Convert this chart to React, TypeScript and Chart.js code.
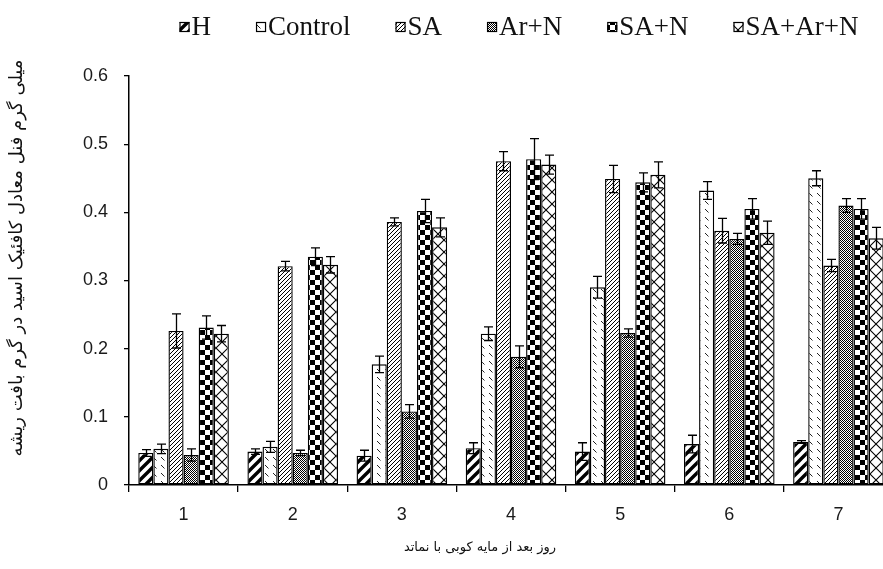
import React, { useEffect, useRef } from "react";
import { Chart, registerables } from "chart.js";

Chart.register(...registerables);

const categories = ["1", "2", "3", "4", "5", "6", "7"];
const seriesLabels = ["H", "Control", "SA", "Ar+N", "SA+N", "SA+Ar+N"];

const hValues = [0.047, 0.049, 0.043, 0.054, 0.049, 0.06, 0.063];
const hErrors = [0.005, 0.004, 0.008, 0.008, 0.013, 0.013, 0.002];
const controlValues = [0.053, 0.056, 0.177, 0.222, 0.29, 0.432, 0.45];
const controlErrors = [0.007, 0.008, 0.012, 0.01, 0.016, 0.013, 0.011];
const saValues = [0.226, 0.321, 0.386, 0.475, 0.449, 0.373, 0.322];
const saErrors = [0.025, 0.007, 0.006, 0.014, 0.02, 0.018, 0.009];
const arnValues = [0.044, 0.047, 0.108, 0.188, 0.223, 0.361, 0.41];
const arnErrors = [0.009, 0.004, 0.01, 0.016, 0.006, 0.008, 0.01];
const sanValues = [0.231, 0.335, 0.402, 0.478, 0.444, 0.405, 0.405];
const sanErrors = [0.017, 0.013, 0.017, 0.03, 0.014, 0.015, 0.015];
const saarnValues = [0.222, 0.323, 0.378, 0.47, 0.455, 0.37, 0.362];
const saarnErrors = [0.012, 0.012, 0.014, 0.014, 0.019, 0.017, 0.016];

const yTicks = [0, 0.1, 0.2, 0.3, 0.4, 0.5, 0.6];
const yTitle = "میلی گرم فنل معادل کافئیک اسید در گرم بافت ریشه";
const xTitle = "روز بعد از مایه کوبی با نماتد";

const allValues = [hValues, controlValues, saValues, arnValues, sanValues, saarnValues];
const allErrors = [hErrors, controlErrors, saErrors, arnErrors, sanErrors, saarnErrors];
const patternKinds = ["wideStripe", "dash", "thinStripe", "dots", "checker", "cross"];

function makePattern(kind: string): CanvasPattern {
  const c = document.createElement("canvas");
  let w = 10,
    h = 10;
  if (kind === "thinStripe") { w = 4; h = 4; }
  if (kind === "dots") { w = 2; h = 2; }
  if (kind === "dash") { w = 8; h = 8; }
  if (kind === "cross") { w = 12; h = 12; }
  c.width = w;
  c.height = h;
  const g = c.getContext("2d") as CanvasRenderingContext2D;
  g.fillStyle = "#fff";
  g.fillRect(0, 0, w, h);
  g.strokeStyle = "#000";
  g.fillStyle = "#000";
  const diag = (lw: number) => {
    g.lineWidth = lw;
    g.beginPath();
    g.moveTo(0, h);
    g.lineTo(w, 0);
    g.moveTo(-w / 2, h / 2);
    g.lineTo(w / 2, -h / 2);
    g.moveTo(w / 2, h * 1.5);
    g.lineTo(w * 1.5, h / 2);
    g.stroke();
  };
  if (kind === "wideStripe") diag(3.4);
  else if (kind === "thinStripe") diag(1);
  else if (kind === "dots") {
    g.fillRect(0, 0, 1, 1);
    g.fillRect(1, 1, 1, 1);
  } else if (kind === "dash") {
    g.strokeStyle = "#222";
    g.lineWidth = 1;
    g.beginPath();
    g.moveTo(1, 1);
    g.lineTo(4.5, 4.5);
    g.stroke();
  } else if (kind === "checker") {
    g.fillRect(0, 0, 5, 5);
    g.fillRect(5, 5, 5, 5);
  } else if (kind === "cross") {
    g.lineWidth = 1.1;
    g.beginPath();
    g.moveTo(0, 0);
    g.lineTo(w, h);
    g.moveTo(w, 0);
    g.lineTo(0, h);
    g.stroke();
  }
  return g.createPattern(c, "repeat") as CanvasPattern;
}

export default function App() {
  const ref = useRef<HTMLCanvasElement | null>(null);

  useEffect(() => {
    if (!ref.current) return;
    const patterns = patternKinds.map(makePattern);

    const errorBars = {
      id: "errorBars",
      afterDatasetsDraw(chart: any) {
        const ctx = chart.ctx;
        const ys = chart.scales.y;
        ctx.save();
        ctx.strokeStyle = "#000";
        ctx.lineWidth = 1.3;
        chart.data.datasets.forEach((ds: any, i: number) => {
          const meta = chart.getDatasetMeta(i);
          meta.data.forEach((bar: any, j: number) => {
            const v = ds.data[j];
            const e = allErrors[i][j];
            const x = Math.round(bar.x) + 0.5;
            const yt = ys.getPixelForValue(v + e);
            const yb = ys.getPixelForValue(v - e);
            ctx.beginPath();
            ctx.moveTo(x, yt);
            ctx.lineTo(x, yb);
            ctx.moveTo(x - 4.5, yt);
            ctx.lineTo(x + 4.5, yt);
            ctx.moveTo(x - 4.5, yb);
            ctx.lineTo(x + 4.5, yb);
            ctx.stroke();
          });
        });
        ctx.restore();
      },
    };

    const decorations = {
      id: "decorations",
      afterDraw(chart: any) {
        const ctx = chart.ctx;
        ctx.save();
        // legend
        ctx.font = '27px "Liberation Serif", "Times New Roman", serif';
        ctx.textBaseline = "middle";
        const box = 10;
        const boxGap = 2;
        const itemGap = 45;
        const widths = seriesLabels.map((s) => box + boxGap + ctx.measureText(s).width);
        const total = widths.reduce((a, b) => a + b, 0) + itemGap * (widths.length - 1);
        let x = 519 - total / 2;
        const ly = 27;
        seriesLabels.forEach((s, i) => {
          ctx.fillStyle = patterns[i];
          ctx.fillRect(x, ly - box / 2, box, box);
          ctx.strokeStyle = "#000";
          ctx.lineWidth = 1.2;
          ctx.strokeRect(x + 0.5, ly - box / 2 + 0.5, box - 1, box - 1);
          ctx.fillStyle = "#111";
          ctx.textAlign = "left";
          ctx.fillText(s, x + box + boxGap, ly + 1);
          x += widths[i] + itemGap;
        });
        // x title
        ctx.fillStyle = "#111";
        ctx.font = '13px "DejaVu Sans", sans-serif';
        ctx.textAlign = "center";
        ctx.fillText(xTitle, 480, 548);
        // y title
        ctx.translate(17, 258);
        ctx.rotate(-Math.PI / 2);
        ctx.font = '18px "DejaVu Sans", sans-serif';
        ctx.fillText(yTitle, 0, 0);
        ctx.restore();
      },
    };

    const chart = new Chart(ref.current, {
      type: "bar",
      data: {
        labels: categories,
        datasets: seriesLabels.map((label, i) => ({
          label,
          data: allValues[i],
          backgroundColor: patterns[i],
          borderColor: "#000",
          borderWidth: 1.4,
          borderSkipped: false,
          barPercentage: 1,
          categoryPercentage: 0.83,
        })),
      },
      options: {
        responsive: false,
        animation: false,
        devicePixelRatio: 1,
        layout: { padding: { top: 76, left: 0, right: 0, bottom: 0 } },
        plugins: {
          legend: { display: false },
          tooltip: { enabled: false },
          title: { display: false },
        },
        scales: {
          x: {
            afterFit: (s: any) => {
              s.height = 84;
            },
            grid: {
              offset: true,
              drawOnChartArea: false,
              tickLength: 7,
              color: "#000",
              lineWidth: 1.3,
            },
            border: { color: "#000", width: 1.5 },
            ticks: {
              color: "#1a1a1a",
              font: { family: '"Liberation Sans", Arial, sans-serif', size: 18 },
              padding: 12,
            },
          },
          y: {
            min: 0,
            max: 0.6,
            afterFit: (s: any) => {
              s.width = 129;
            },
            afterBuildTicks: (s: any) => {
              s.ticks = yTicks.map((v) => ({ value: v }));
            },
            grid: {
              drawOnChartArea: false,
              tickLength: 5,
              color: "#000",
              lineWidth: 1.3,
            },
            border: { color: "#000", width: 1.5 },
            ticks: {
              color: "#1a1a1a",
              font: { family: '"Liberation Sans", Arial, sans-serif', size: 18 },
              padding: 16,
              callback: (v: any) => String(Math.round(Number(v) * 10) / 10),
            },
          },
        },
      },
      plugins: [errorBars, decorations],
    });
    return () => chart.destroy();
  }, []);

  return (
    <div style={{ position: "fixed", left: 0, top: 0, width: 893, height: 569, overflow: "hidden", background: "#fff" }}>
      <canvas ref={ref} width={893} height={569} style={{ display: "block" }} />
    </div>
  );
}
